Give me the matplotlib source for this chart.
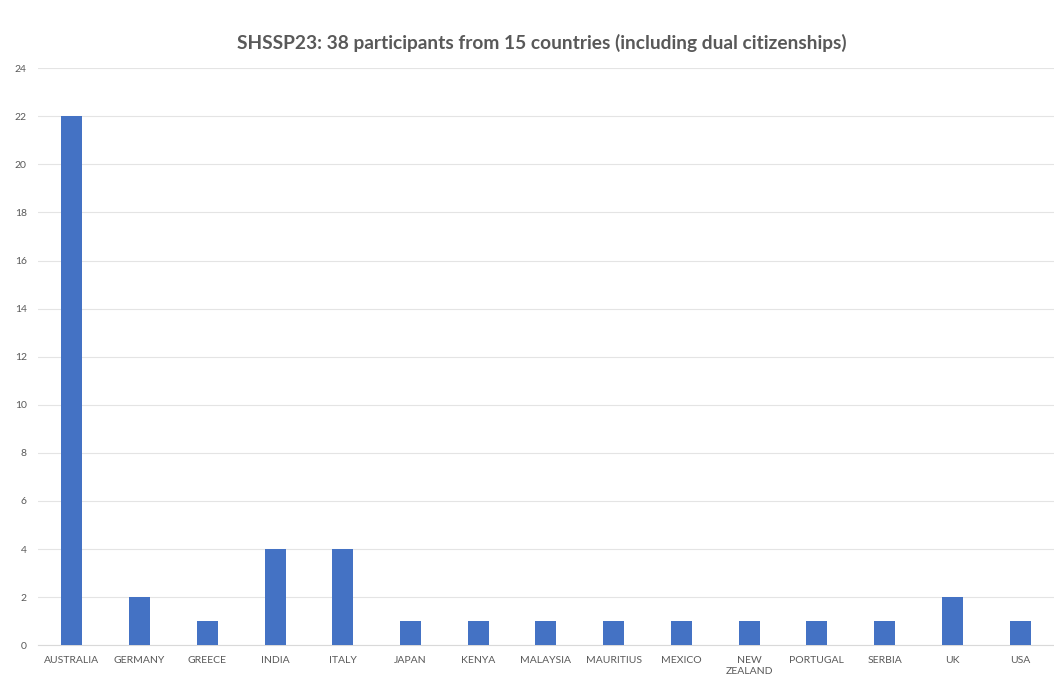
import matplotlib
matplotlib.use('Agg')
import matplotlib.pyplot as plt

countries = ['AUSTRALIA', 'GERMANY', 'GREECE', 'INDIA', 'ITALY', 'JAPAN',
             'KENYA', 'MALAYSIA', 'MAURITIUS', 'MEXICO', 'NEW\nZEALAND',
             'PORTUGAL', 'SERBIA', 'UK', 'USA']
participants = [22, 2, 1, 4, 4, 1, 1, 1, 1, 1, 1, 1, 1, 2, 1]
y_ticks = list(range(0, 25, 2))

plt.rcParams['font.family'] = ['Lato', 'DejaVu Sans']


def main():
    fig = plt.figure(figsize=(10.54, 6.82), dpi=100)
    ax = fig.add_axes([0.036, 0.054, 0.964, 0.846])
    x = range(len(countries))
    ax.bar(x, participants, width=0.31, color='#4472C4', zorder=3)

    ax.set_ylim(0, 24)
    ax.set_xlim(-0.5, len(countries) - 0.5)
    ax.set_yticks(y_ticks)
    ax.set_xticks(list(x))
    ax.set_xticklabels(countries, linespacing=1.3)
    ax.tick_params(axis='both', length=0, colors='#595959', labelsize=7.5)
    ax.tick_params(axis='x', pad=8)
    ax.tick_params(axis='y', pad=8)
    ax.grid(axis='y', color='#e4e4e4', linewidth=0.8, zorder=0)
    for side in ['top', 'right', 'left']:
        ax.spines[side].set_visible(False)
    ax.spines['bottom'].set_color('#d9d9d9')

    fig.text(0.514, 0.937,
             'SHSSP23: 38 participants from 15 countries '
             '(including dual citizenships)',
             ha='center', va='center', fontsize=13.8, color='#595959',
             fontweight='bold')
    fig.savefig('out.png', dpi=100)


if __name__ == '__main__':
    main()
